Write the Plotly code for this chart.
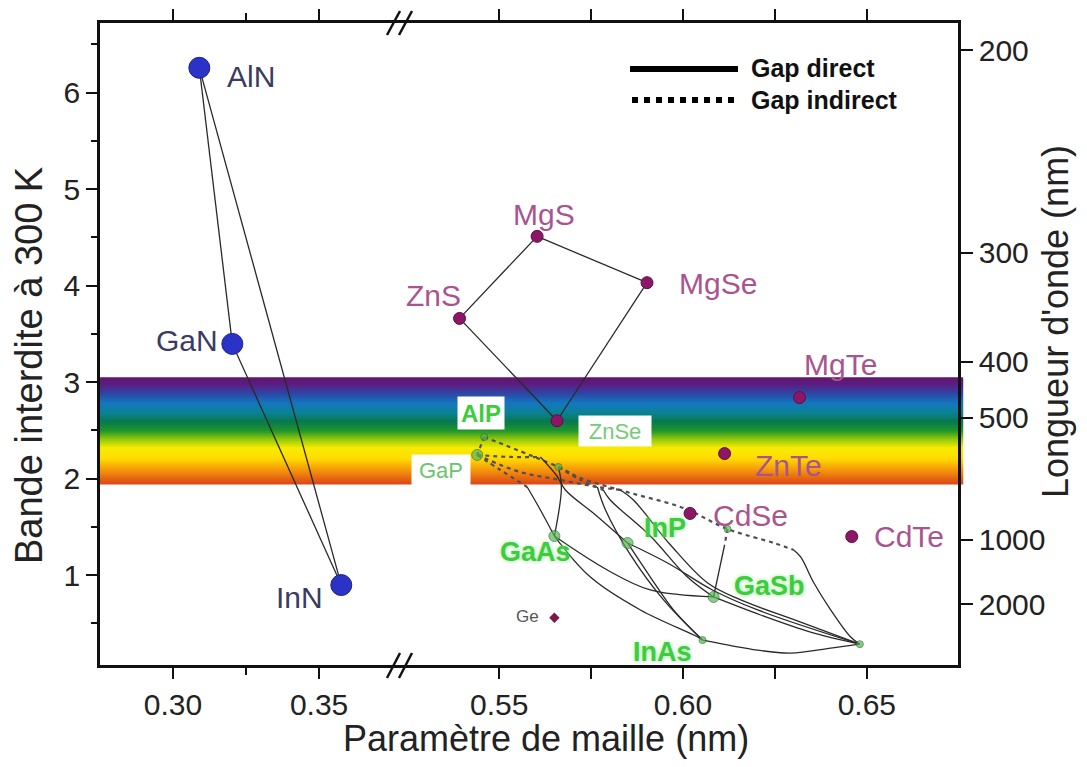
import plotly.graph_objects as go

# ---------------- data ----------------
# Nitrides (left part of the broken x axis)
nitride_names = ["AlN", "GaN", "InN"]
nitride_a = [0.3090, 0.3203, 0.3576]
nitride_eg = [6.256, 3.396, 0.898]
nitride_links = [("AlN", "GaN"), ("AlN", "InN"), ("GaN", "InN")]

# II-VI compounds
iivi_names = ["ZnS", "MgS", "MgSe", "ZnSe", "MgTe", "ZnTe", "CdSe", "CdTe"]
iivi_a = [0.5392, 0.5603, 0.5902, 0.5657, 0.6317, 0.6113, 0.6019, 0.6459]
iivi_eg = [3.66, 4.51, 4.03, 2.60, 2.84, 2.26, 1.64, 1.40]
iivi_links = [("ZnS", "MgS"), ("MgS", "MgSe"), ("MgSe", "ZnSe"), ("ZnS", "ZnSe")]

ge_a = [0.5650]
ge_eg = [0.56]

# III-V compounds
iiiv_names = ["AlP", "GaP", "AlAs", "GaAs", "InP", "AlSb", "GaSb", "InAs", "InSb"]
iiiv_a = [0.5459, 0.5440, 0.5661, 0.5650, 0.5849, 0.6121, 0.6083, 0.6053, 0.6481]
iiiv_eg = [2.432, 2.246, 2.121, 1.406, 1.334, 1.479, 0.775, 0.328, 0.286]
iiiv_big = ["GaP", "GaAs", "InP", "GaSb"]

# alloy curves
indirect_curves = [
    ([0.5459, 0.5440], [2.432, 2.246]),
    ([0.5459, 0.5661, 0.5721, 0.5857, 0.6001, 0.6121, 0.6247, 0.6301],
     [2.432, 2.121, 2.007, 1.852, 1.696, 1.479, 1.334, 1.262]),
    ([0.5440, 0.5530, 0.5612], [2.246, 2.225, 2.225]),
    ([0.5440, 0.5503, 0.5576], [2.246, 2.090, 1.914]),
    ([0.5440, 0.5557, 0.5666, 0.5767, 0.5830], [2.246, 2.069, 1.987, 1.914, 1.883]),
    ([0.5661, 0.5721, 0.5783], [2.121, 1.987, 1.883]),
    ([0.6121, 0.6113], [1.479, 1.313]),
]
direct_curves = [
    ([0.5612, 0.5655, 0.5680, 0.5762, 0.5849], [2.225, 2.038, 1.883, 1.624, 1.334]),
    ([0.5576, 0.5612, 0.5650], [1.914, 1.676, 1.406]),
    ([0.5661, 0.5669, 0.5650], [2.121, 1.904, 1.406]),
    ([0.5767, 0.5789, 0.5857, 0.5947, 0.6053], [1.914, 1.676, 1.210, 0.744, 0.328]),
    ([0.5783, 0.5802, 0.5911, 0.6012, 0.6083], [1.883, 1.779, 1.406, 0.981, 0.775]),
    ([0.5650, 0.5794, 0.5911, 0.6083], [1.406, 1.054, 0.847, 0.775]),
    ([0.5650, 0.5748, 0.5884, 0.6040, 0.6053], [1.406, 0.981, 0.640, 0.360, 0.328]),
    ([0.5849, 0.5911, 0.5974, 0.6053], [1.334, 0.981, 0.640, 0.328]),
    ([0.5849, 0.5958, 0.6080, 0.6203, 0.6481], [1.334, 1.127, 0.847, 0.640, 0.286]),
    ([0.5830, 0.5865, 0.5966, 0.6067, 0.6157, 0.6320, 0.6481],
     [1.883, 1.779, 1.313, 0.919, 0.744, 0.515, 0.286]),
    ([0.6083, 0.6211, 0.6347, 0.6481], [0.775, 0.588, 0.411, 0.286]),
    ([0.6053, 0.6203, 0.6293, 0.6402, 0.6481], [0.328, 0.224, 0.193, 0.245, 0.286]),
    ([0.6301, 0.6320, 0.6356, 0.6402, 0.6456, 0.6481], [1.262, 1.189, 0.919, 0.639, 0.360, 0.286]),
    ([0.6113, 0.6083], [1.313, 0.775]),
]

# axes ticks
left_ticks = [0.30, 0.35]
left_minor = [0.325]
right_ticks = [0.55, 0.60, 0.65]
right_minor = [0.575, 0.625]
eg_ticks = [1, 2, 3, 4, 5, 6]
eg_minor = [0.5, 1.5, 2.5, 3.5, 4.5, 5.5, 6.5]
wl_labels = ["200", "300", "400", "500", "1000", "2000"]
wl_tick_ev = [6.44, 4.34, 3.21, 2.63, 1.365, 0.70]

# visible band (eV)
band_top_ev = 3.05
band_bottom_ev = 1.94

# ---------------- styles ----------------
FONT = "Liberation Sans, Arial, sans-serif"
LINE = dict(color="#2a2a2a", width=1.3)
DASH = dict(color="#505050", width=2.2, dash="4px,4px")
BLUE = "#2a33c6"
MAG = "#8c1766"
GREEN = "#58b858"
LBL_NITRIDE = "#3a3a62"
LBL_IIVI = "#a9548f"
LBL_GREEN = "#3ccc3c"

label_pos = {
    "AlN": ("left", 26, -9), "GaN": ("right", -12, 3), "InN": ("right", -16, -12),
    "ZnS": ("right", 3, 23), "MgS": ("center", 7, 22), "MgSe": ("left", 30, -1),
    "MgTe": ("center", 41, 33), "ZnTe": ("left", 28, -12), "CdSe": ("left", 21, -2),
    "CdTe": ("left", 20, 0), "Ge": ("right", -13, 1),
    "GaAs": ("center", -19, -16), "InP": ("center", 37, 15),
    "GaSb": ("center", 56, 11), "InAs": ("center", -40, -12),
}
boxed_pos = {
    "ZnSe": (58, -10, 72, 30, "#74cc78", False, 22),
    "AlP": (-3, 24, 46, 32, "#3ccc3c", True, 24),
    "GaP": (-36, -15, 58, 30, "#6cc46c", False, 22),
}

# page geometry: the page body adds an 8 px margin around the figure
PAGE_OFF = 8
WIN_W, WIN_H = 1087, 767
PX_L, PX_R, PX_T, PX_B = 100, 958, 23, 665      # plot area in window pixels
FIG_W, FIG_H = WIN_W - 2 * PAGE_OFF, WIN_H - 2 * PAGE_OFF

fig = go.Figure()

# visible spectrum band
stops = [
    (0.00, (98, 22, 108)), (0.07, (92, 30, 130)), (0.15, (45, 70, 165)),
    (0.24, (20, 118, 192)), (0.33, (10, 130, 150)), (0.41, (8, 120, 80)),
    (0.50, (30, 150, 40)), (0.58, (150, 200, 12)), (0.66, (248, 236, 0)),
    (0.76, (255, 218, 0)), (0.87, (245, 148, 12)), (1.00, (218, 68, 22)),
]


def band_color(f):
    for (f0, c0), (f1, c1) in zip(stops[:-1], stops[1:]):
        if f0 <= f <= f1:
            t = (f - f0) / (f1 - f0)
            return "rgb(%d,%d,%d)" % tuple(round(c0[i] + (c1[i] - c0[i]) * t) for i in range(3))
    return "rgb(%d,%d,%d)" % stops[-1][1]


n_strips = 54
step = (band_top_ev - band_bottom_ev) / n_strips
for k in range(n_strips):
    y1 = band_top_ev - step * k
    y0 = max(band_bottom_ev, y1 - step * 1.8)
    fig.add_shape(type="rect", xref="paper", yref="y", x0=0, x1=1.006, y0=y0, y1=y1,
                  fillcolor=band_color((k + 0.5) / n_strips), line_width=0, layer="below")

# tie lines
ni = {n: i for i, n in enumerate(nitride_names)}
for p, q in nitride_links:
    fig.add_trace(go.Scatter(x=[nitride_a[ni[p]], nitride_a[ni[q]]],
                             y=[nitride_eg[ni[p]], nitride_eg[ni[q]]],
                             xaxis="x", yaxis="y", mode="lines", line=LINE,
                             hoverinfo="skip", showlegend=False))
vi = {n: i for i, n in enumerate(iivi_names)}
for p, q in iivi_links:
    fig.add_trace(go.Scatter(x=[iivi_a[vi[p]], iivi_a[vi[q]]],
                             y=[iivi_eg[vi[p]], iivi_eg[vi[q]]],
                             xaxis="x2", yaxis="y", mode="lines", line=LINE,
                             hoverinfo="skip", showlegend=False))
for xs, ys in indirect_curves:
    fig.add_trace(go.Scatter(x=xs, y=ys, xaxis="x2", yaxis="y", mode="lines",
                             line=dict(**DASH, shape="spline"), hoverinfo="skip",
                             showlegend=False))
for xs, ys in direct_curves:
    fig.add_trace(go.Scatter(x=xs, y=ys, xaxis="x2", yaxis="y", mode="lines",
                             line=dict(**LINE, shape="spline"), hoverinfo="skip",
                             showlegend=False))

# markers
fig.add_trace(go.Scatter(x=nitride_a, y=nitride_eg, xaxis="x", yaxis="y", mode="markers",
                         marker=dict(size=21, color=BLUE, line=dict(color="#1a1f8a", width=1)),
                         text=nitride_names, showlegend=False))
fig.add_trace(go.Scatter(x=iivi_a, y=iivi_eg, xaxis="x2", yaxis="y", mode="markers",
                         marker=dict(size=12, color=MAG, line=dict(color="#5e0c44", width=1)),
                         text=iivi_names, showlegend=False))
fig.add_trace(go.Scatter(x=ge_a, y=ge_eg, xaxis="x2", yaxis="y", mode="markers",
                         marker=dict(size=8, symbol="diamond", color="#7a1a4a"),
                         text=["Ge"], showlegend=False))
fig.add_trace(go.Scatter(x=iiiv_a, y=iiiv_eg, xaxis="x2", yaxis="y", mode="markers",
                         marker=dict(size=[11 if n in iiiv_big else 7 for n in iiiv_names],
                                     color=GREEN, line=dict(color="#2e6e2e", width=1)),
                         text=iiiv_names, showlegend=False))
# invisible trace to carry the wavelength axis
fig.add_trace(go.Scatter(x=[None], y=[None], xaxis="x2", yaxis="y2", mode="markers",
                         showlegend=False, hoverinfo="skip"))

# labels
ann = []


def add_label(name, x, y, xref, color, size, bold=False, glow=False):
    xa, dx, dy = label_pos[name]
    font = dict(family=FONT, size=size, color=color)
    if glow:
        font["shadow"] = "0px 0px 4px #9fe89f"
    ann.append(dict(x=x, y=y, xref=xref, yref="y", text=("<b>%s</b>" % name) if bold else name,
                    showarrow=False, xanchor=xa, yanchor="middle", xshift=dx, yshift=dy,
                    font=font))


for n, a, e in zip(nitride_names, nitride_a, nitride_eg):
    add_label(n, a, e, "x", LBL_NITRIDE, 30)
for n, a, e in zip(iivi_names, iivi_a, iivi_eg):
    if n in label_pos:
        add_label(n, a, e, "x2", LBL_IIVI, 30)
add_label("Ge", ge_a[0], ge_eg[0], "x2", "#555555", 17)
for n, a, e in zip(iiiv_names, iiiv_a, iiiv_eg):
    if n in label_pos:
        add_label(n, a, e, "x2", LBL_GREEN, 27, bold=True, glow=True)

boxed_src = {**{n: (a, e) for n, a, e in zip(iivi_names, iivi_a, iivi_eg)},
             **{n: (a, e) for n, a, e in zip(iiiv_names, iiiv_a, iiiv_eg)}}
for n, (dx, dy, w, h, col, bold, size) in boxed_pos.items():
    a, e = boxed_src[n]
    ann.append(dict(x=a, y=e, xref="x2", yref="y", text=("<b>%s</b>" % n) if bold else n,
                    showarrow=False, xanchor="center", yanchor="middle", xshift=dx, yshift=dy,
                    width=w, height=h, bgcolor="white", borderpad=0,
                    font=dict(family=FONT, size=size, color=col)))


def px(xp):
    return (xp - PX_L) / (PX_R - PX_L)


def py(yp):
    return (PX_B - yp) / (PX_B - PX_T)


ann.append(dict(x=px(546), y=py(738), xref="paper", yref="paper", showarrow=False,
                text="Paramètre de maille (nm)", xanchor="center", yanchor="middle",
                font=dict(family=FONT, size=36, color="#222")))
ann.append(dict(x=px(29), y=py(366), xref="paper", yref="paper", showarrow=False,
                text="Bande interdite à 300 K", textangle=-90, xanchor="center",
                yanchor="middle", font=dict(family=FONT, size=38, color="#222")))
ann.append(dict(x=px(1055), y=py(322), xref="paper", yref="paper", showarrow=False,
                text="Longueur d'onde (nm)", textangle=-90, xanchor="center",
                yanchor="middle", font=dict(family=FONT, size=36, color="#222")))

# legend (drawn key)
fig.add_shape(type="line", xref="paper", yref="paper", x0=px(630), x1=px(738), y0=py(69), y1=py(69),
              line=dict(color="black", width=6))
fig.add_shape(type="line", xref="paper", yref="paper", x0=px(632), x1=px(736), y0=py(100), y1=py(100),
              line=dict(color="black", width=6, dash="dot"))
ann.append(dict(x=px(749), y=py(68), xref="paper", yref="paper", showarrow=False,
                text="<b>Gap direct</b>", xanchor="left", yanchor="middle",
                font=dict(family=FONT, size=25, color="#111")))
ann.append(dict(x=px(749), y=py(100), xref="paper", yref="paper", showarrow=False,
                text="<b>Gap indirect</b>", xanchor="left", yanchor="middle",
                font=dict(family=FONT, size=25, color="#111")))

# axis break marks
for yb0, yb1 in [(678, 653), (35, 11)]:
    for off in (0, 12):
        fig.add_shape(type="line", xref="paper", yref="paper",
                      x0=px(387 + off), x1=px(400 + off), y0=py(yb0), y1=py(yb1),
                      line=dict(color="#111", width=2.5))

x_split = px(400)
TICKFONT = dict(family=FONT, size=30, color="#222")
axis_common = dict(showline=True, linecolor="#111", linewidth=2.5, ticks="outside",
                   ticklen=11, tickwidth=2, tickcolor="#111", showgrid=False, zeroline=False,
                   tickfont=TICKFONT, mirror="allticks")
fig.update_layout(
    width=FIG_W, height=FIG_H,
    margin=dict(l=PX_L - PAGE_OFF, r=FIG_W - (PX_R - PAGE_OFF), t=PX_T - PAGE_OFF,
                b=FIG_H - (PX_B - PAGE_OFF), autoexpand=False),
    paper_bgcolor="white", plot_bgcolor="white",
    showlegend=False,
    xaxis=dict(domain=[0, x_split], range=[0.275, 0.3777], anchor="y",
               tickmode="array", tickvals=left_ticks, tickformat=".2f",
               minor=dict(tickmode="array", tickvals=left_minor, ticks="outside", ticklen=7,
                          tickwidth=2, tickcolor="#111"),
               **axis_common),
    xaxis2=dict(domain=[x_split, 1], range=[0.523, 0.6748], anchor="y",
                tickmode="array", tickvals=right_ticks, tickformat=".2f",
                minor=dict(tickmode="array", tickvals=right_minor, ticks="outside", ticklen=7,
                           tickwidth=2, tickcolor="#111"),
                **axis_common),
    yaxis=dict(range=[0.07, 6.72], anchor="x", tickmode="array", tickvals=eg_ticks,
               showline=True, linecolor="#111", linewidth=2.5, ticks="outside", ticklen=11,
               tickwidth=2, tickcolor="#111", showgrid=False, zeroline=False, mirror=False,
               tickfont=TICKFONT,
               minor=dict(tickmode="array", tickvals=eg_minor, ticks="outside", ticklen=6,
                          tickwidth=2, tickcolor="#111")),
    yaxis2=dict(range=[0.07, 6.72], overlaying="y", side="right", anchor="x2",
                tickmode="array", tickvals=wl_tick_ev, ticktext=wl_labels,
                showline=True, linecolor="#111", linewidth=2.5, ticks="outside", ticklen=12,
                tickwidth=2, tickcolor="#111", showgrid=False, zeroline=False,
                tickfont=TICKFONT),
    annotations=ann,
)

fig.write_html("out.html")
